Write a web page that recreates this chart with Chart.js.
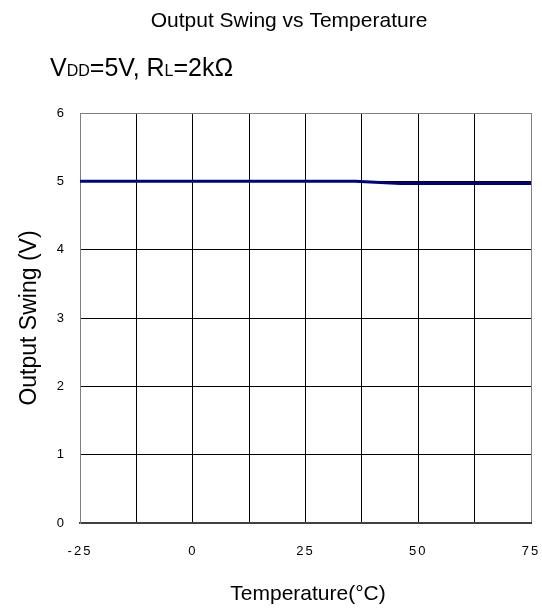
<!DOCTYPE html>
<html>
<head>
<meta charset="utf-8">
<script src="https://cdn.jsdelivr.net/npm/chart.js@4"></script>
<style>
  html, body { margin: 0; padding: 0; background: #fff; }
  #wrap { width: 542px; height: 614px; }
</style>
</head>
<body>
<div id="wrap"><canvas id="chart"></canvas></div>
<script>
// values
const temps = [-25, 0, 25, 36, 46, 60, 75];
const swing = [5.0, 5.0, 5.0, 5.0, 4.97, 4.97, 4.97];
const xTickLabels = [-25, 0, 25, 50, 75];
const yTickLabels = [0, 1, 2, 3, 4, 5, 6];

const FONT = 'Liberation Sans, Arial, sans-serif';

// titles and the subscripted condition line
const textPlugin = {
  id: 'texts',
  beforeDraw(chart) {
    chart.ctx.letterSpacing = '2px';
  },
  afterDraw(chart) {
    const ctx = chart.ctx;
    const area = chart.chartArea;
    ctx.save();
    ctx.letterSpacing = '0px';
    ctx.fillStyle = '#000';
    ctx.textBaseline = 'alphabetic';

    ctx.font = '21px ' + FONT;
    ctx.textAlign = 'center';
    ctx.fillText('Output Swing vs Temperature', 289, 27);

    // VDD=5V, RL=2kΩ with small subscripts
    ctx.textAlign = 'left';
    let x = 50;
    const base = 76;
    const parts = [
      ['V', 25], ['DD', 16], ['=5V, R', 25], ['L', 16], ['=2k\u03A9', 25]
    ];
    parts.forEach(p => {
      ctx.font = p[1] + 'px ' + FONT;
      ctx.fillText(p[0], x, base);
      x += ctx.measureText(p[0]).width;
    });

    ctx.font = '21px ' + FONT;
    ctx.textAlign = 'center';
    ctx.fillText('Temperature(\u00B0C)', 308, 600);

    ctx.font = '23px ' + FONT;
    ctx.translate(36, 318);
    ctx.rotate(-Math.PI / 2);
    ctx.fillText('Output Swing (V)', 0, 0);
    ctx.restore();
  }
};

const gridColor = (ctx, min, max) => {
  const v = ctx.tick ? ctx.tick.value : null;
  return (v === min || v === max) ? '#808080' : '#000';
};

new Chart(document.getElementById('chart'), {
  type: 'line',
  data: {
    datasets: [{
      data: temps.map((t, i) => ({ x: t, y: swing[i] })),
      borderColor: '#000080',
      borderWidth: 3,
      pointRadius: 0,
      tension: 0,
      fill: false
    }]
  },
  options: {
    responsive: true,
    maintainAspectRatio: false,
    animation: false,
    layout: { padding: { top: 113, right: 11, left: 0, bottom: 0 } },
    plugins: {
      legend: { display: false },
      title: { display: false },
      tooltip: { enabled: false }
    },
    scales: {
      x: {
        type: 'linear',
        min: -25,
        max: 75,
        afterBuildTicks: (scale) => {
          const t = [];
          for (let v = -25; v <= 75; v += 12.5) t.push({ value: v });
          scale.ticks = t;
        },
        afterFit: (scale) => { scale.height = 91; },
        grid: {
          color: (c) => gridColor(c, -25, 75),
          lineWidth: 1,
          drawTicks: true,
          tickLength: 20,
          tickColor: 'rgba(0,0,0,0)'
        },
        border: { color: '#404040', width: 2 },
        ticks: {
          autoSkip: false,
          maxRotation: 0,
          padding: 1,
          color: '#000',
          font: { family: FONT, size: 13 },
          callback: (v) => xTickLabels.includes(v) ? String(v) : ''
        }
      },
      y: {
        min: 0,
        max: 6,
        afterBuildTicks: (scale) => {
          scale.ticks = yTickLabels.map(v => ({ value: v }));
        },
        afterFit: (scale) => { scale.width = 80; },
        grid: {
          color: (c) => gridColor(c, 0, 6),
          lineWidth: 1,
          drawTicks: false
        },
        border: { color: '#808080', width: 1 },
        ticks: {
          padding: 14,
          color: '#000',
          font: { family: FONT, size: 13 }
        }
      }
    }
  },
  plugins: [textPlugin]
});
</script>
</body>
</html>
